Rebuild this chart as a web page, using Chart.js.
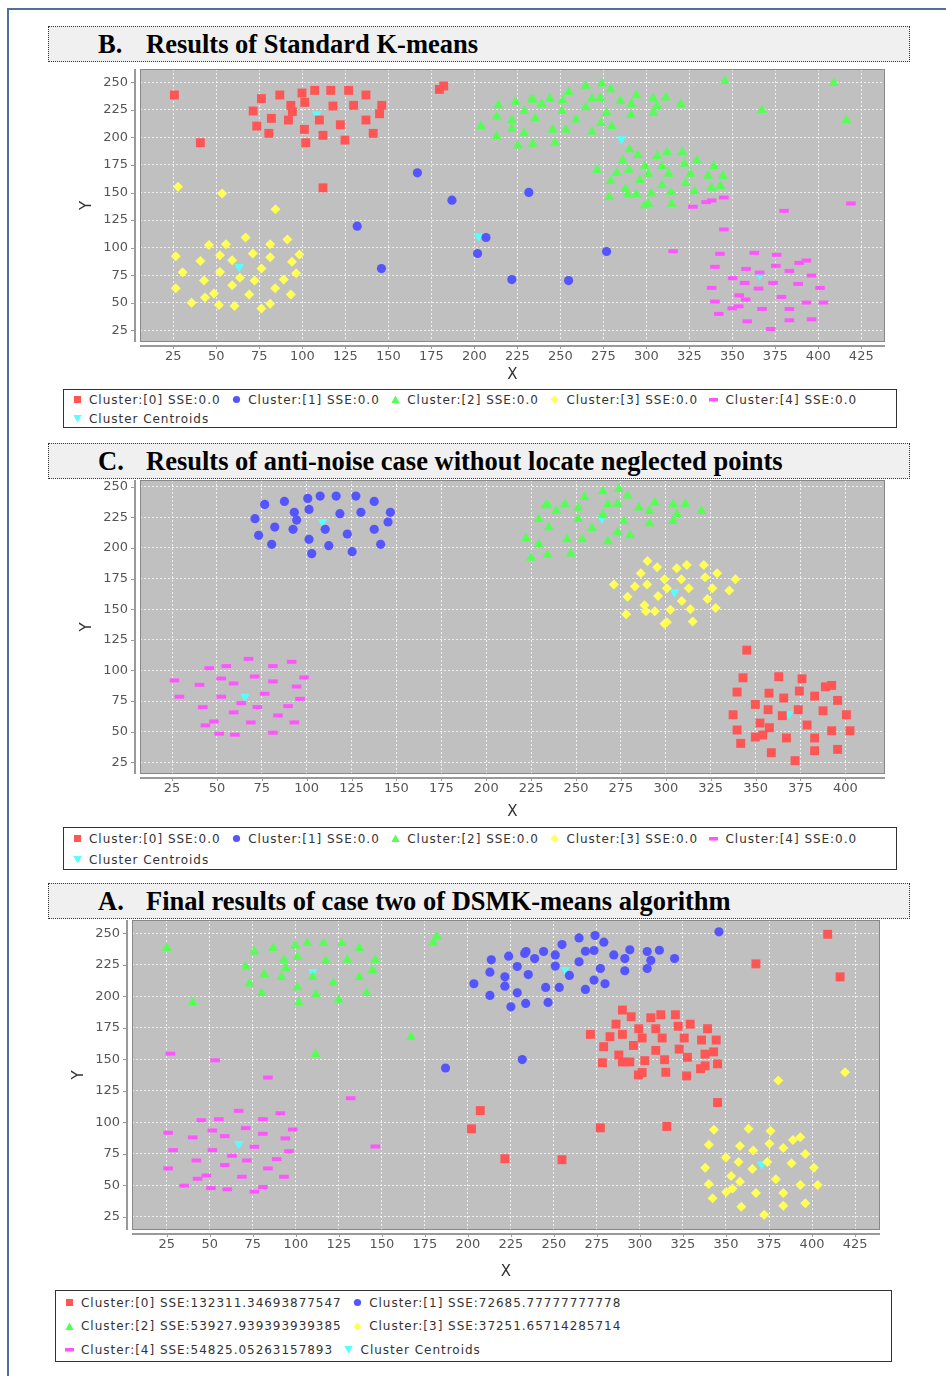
<!DOCTYPE html>
<html>
<head>
<meta charset="utf-8">
<title>K-means cluster results</title>
<script src="https://cdn.jsdelivr.net/npm/chart.js@4.4.1/dist/chart.umd.min.js"></script>
<style>
  body { margin: 0; background: #fff; }
  #page { position: relative; width: 946px; height: 1376px; overflow: hidden; background: #fff; }
  #frame { position: absolute; left: 7px; top: 8px; width: 960px; height: 1400px;
           border-left: 2px solid #4f6fa0; border-top: 2px solid #4f6fa0; }
  .ttl { position: absolute; left: 48px; width: 862px; height: 36px; box-sizing: border-box;
         background: #f0f0f0; border: 1px dotted #333;
         font-family: "Liberation Serif", "Times New Roman", serif; font-weight: bold; font-size: 26.5px;
         color: #000; }
  .ttl span { position: absolute; top: 0; line-height: 34px; white-space: nowrap; }
  canvas { position: absolute; left: 60px; }
  .leg { position: absolute; box-sizing: border-box; border: 1px solid #333; padding-left: 8.5px;
         font-family: "DejaVu Sans", Verdana, sans-serif; font-size: 12px; letter-spacing: 0.97px; color: #333; }
  .lrow { display: flex; align-items: center; white-space: nowrap; }
  .litem { display: flex; align-items: center; margin-right: 11px; }
  .litem svg { margin-right: 7.5px; flex: none; }
</style>
</head>
<body>
<div id="page">
  <div id="frame"></div>

  <div class="ttl" style="top:26px"><span style="left:49px">B.</span><span style="left:97px">Results of Standard K-means</span></div>
  <canvas id="chartB" width="835" height="326" style="top:59px"></canvas>
  <div class="leg" id="legB" style="left:63px;top:389px;width:834px;height:39px"></div>

  <div class="ttl" style="top:443px"><span style="left:49px">C.</span><span style="left:97px">Results of anti-noise case without locate neglected points</span></div>
  <canvas id="chartC" width="835" height="352" style="top:470px"></canvas>
  <div class="leg" id="legC" style="left:63px;top:827px;width:834px;height:43px"></div>

  <div class="ttl" style="top:883px"><span style="left:49px">A.</span><span style="left:97px">Final results of case two of DSMK-means algorithm</span></div>
  <canvas id="chartA" width="830" height="372" style="top:910px"></canvas>
  <div class="leg" id="legA" style="left:55px;top:1290px;width:837px;height:72px"></div>
</div>

<script>
// Axis ticks
const xTicksB = [25, 50, 75, 100, 125, 150, 175, 200, 225, 250, 275, 300, 325, 350, 375, 400, 425];
const xTicksC = [25, 50, 75, 100, 125, 150, 175, 200, 225, 250, 275, 300, 325, 350, 375, 400];
const xTicksA = xTicksB;
const yTicks = [25, 50, 75, 100, 125, 150, 175, 200, 225, 250];

// Legend labels
const legendLabelsB = ["Cluster:[0] SSE:0.0", "Cluster:[1] SSE:0.0", "Cluster:[2] SSE:0.0",
  "Cluster:[3] SSE:0.0", "Cluster:[4] SSE:0.0", "Cluster Centroids"];
const legendLabelsC = legendLabelsB;
const legendLabelsA = ["Cluster:[0] SSE:132311.34693877547", "Cluster:[1] SSE:72685.77777777778",
  "Cluster:[2] SSE:53927.939393939385", "Cluster:[3] SSE:37251.65714285714",
  "Cluster:[4] SSE:54825.05263157893", "Cluster Centroids"];

// ---- B. Standard K-means ----
const bCluster0 = [
  [25.6,238.5],[76.2,235.2],[86.9,238.5],[99.8,240.3],[107.2,242.7],[116.5,242.7],[126.9,242.7],[137.0,238.5],
  [71.4,224.0],[93.3,229.1],[101.4,231.8],[94.2,223.4],[117.8,228.5],[129.8,229.1],[146.2,229.1],
  [82.0,217.3],[91.9,215.8],[109.9,215.8],[137.0,215.8],[144.9,221.5],
  [73.5,210.3],[80.5,203.7],[101.2,207.3],[112.0,201.9],[122.1,211.5],[124.8,197.6],[141.2,203.7],[102.0,195.2],
  [40.7,195.2],[112.0,154.3],[179.7,243.6],[182.2,246.7]
];
const bCluster1 = [
  [166.9,167.9],[187.0,143.1],[131.9,119.5],[206.8,109.2],[201.9,94.7],[146.0,81.0],
  [221.8,71.0],[254.8,70.1],[276.9,96.5],[231.7,150.1]
];
const bCluster2 = [
  [203.9,210.3],[214.0,229.1],[213.0,218.8],[213.0,201.0],[223.9,232.4],[221.8,215.5],[221.8,207.9],[229.0,224.0],[229.0,203.7],[225.3,192.5],
  [233.4,234.6],[234.2,234.0],[235.4,217.3],[234.0,194.3],[239.1,230.3],[243.9,235.2],[251.3,233.6],[251.1,224.0],[245.5,207.0],[247.0,195.2],[253.2,207.0],
  [254.8,241.2],[259.1,216.1],[264.7,246.7],[264.7,227.3],[268.4,235.2],[268.4,205.2],[274.2,248.8],[273.3,235.8],[273.5,213.1],[279.3,243.6],
  [276.9,222.4],[279.9,210.3],[284.9,233.3],[291.3,230.3],[291.1,220.6],[294.2,238.2],[304.0,235.2],[306.3,228.5],[304.1,222.4],[311.3,236.1],[320.1,230.3],
  [290.2,189.1],[295.0,184.0],[286.3,179.1],[271.3,170.7],[289.8,170.7],[299.1,174.0],[306.3,183.1],[312.1,186.7],[320.9,186.7],[322.2,176.1],[329.4,179.1],[339.3,174.0],[309.2,174.0],
  [301.2,167.0],[282.8,167.9],[279.3,160.4],[296.2,161.3],[313.0,167.0],[325.8,167.0],[335.9,165.2],[344.6,165.2],[309.2,156.7],[322.9,158.6],[337.9,154.3],[343.1,155.8],
  [287.8,153.4],[289.2,148.3],[294.2,148.3],[302.8,149.2],[314.3,150.1],[327.9,151.0],[278.4,145.8],[299.1,138.3],[301.2,139.8],[314.8,139.8],
  [345.7,251.2],[367.3,224.9],[409.1,249.4],[416.3,215.5]
];
const bCluster3 = [
  [27.7,155.2],[53.4,149.2],[84.4,134.9],[67.0,109.2],[91.3,107.4],[45.7,102.5],[55.6,103.1],[81.3,103.1],
  [26.4,92.2],[40.7,88.0],[52.1,93.2],[59.2,88.6],[71.2,94.7],[81.3,91.3],[98.3,93.8],[94.0,87.1],
  [30.4,77.7],[52.1,78.0],[76.2,81.0],[96.4,76.8],[63.7,72.6],[42.8,70.1],[72.2,70.1],[89.2,71.0],
  [26.4,63.2],[59.2,65.9],[84.2,63.2],[48.6,58.3],[43.4,54.7],[69.1,57.4],[93.3,57.4],
  [35.6,50.0],[51.5,48.0],[60.6,47.1],[76.2,44.7],[81.3,49.0]
];
const bCluster4 = [
  [327.1,137.1],[334.8,141.3],[338.0,142.8],[345.1,145.5],[419.0,140.1],[380.1,133.4],[345.1,116.5],[315.6,96.8],
  [342.8,94.4],[362.8,95.3],[375.8,93.5],[393.1,88.3],[388.9,86.2],[339.9,82.6],[358.0,80.7],[365.9,77.4],[375.3,83.5],[383.2,78.9],[396.1,74.7],
  [350.2,72.3],[357.2,68.0],[373.7,68.0],[388.3,67.1],[338.0,63.5],[365.3,62.9],[401.0,63.5],[354.0,56.8],[378.6,55.3],[357.8,52.9],[339.9,51.1],
  [393.1,50.2],[403.0,50.2],[350.0,45.0],[353.7,46.8],[367.3,44.4],[383.2,44.4],[342.2,39.9],[358.7,33.2],[383.2,34.1],[396.1,35.0],[372.3,26.2]
];
const bCentroids = [[108.3,221.2],[202.5,110.4],[285.5,198.5],[63.3,82.6],[365.9,75.0]];

// ---- C. anti-noise without neglected points ----
const cCluster0 = [
  [345.1,116.6],[343.0,94.0],[362.9,94.9],[375.9,93.2],[339.7,82.4],[357.5,81.5],[365.7,77.5],[374.4,83.2],[382.9,79.1],[388.9,86.7],[392.4,87.8],[395.7,75.6],
  [349.9,72.3],[357.0,68.0],[373.8,68.0],[387.6,67.1],[337.5,63.9],[364.9,63.1],[400.6,63.9],[352.5,57.1],[357.7,53.3],[378.7,55.5],[339.7,51.4],
  [349.9,45.7],[354.0,47.3],[367.2,44.9],[382.9,44.9],[392.4,50.8],[402.6,50.8],[341.7,40.5],[358.8,32.9],[382.9,34.5],[395.7,35.6],[372.0,26.4]
];
const cCluster1 = [
  [76.6,235.6],[87.6,238.0],[100.6,240.5],[107.5,242.4],[116.4,242.4],[127.4,242.4],[137.6,238.0],[71.2,223.9],[93.1,229.1],[101.3,231.5],[94.4,222.8],
  [118.5,228.0],[130.2,229.1],[146.6,229.1],[82.2,217.1],[92.4,215.2],[110.3,215.2],[137.6,215.2],[145.3,221.2],[73.2,210.3],[80.5,203.0],[101.3,207.1],
  [112.3,201.9],[122.6,211.4],[125.3,197.0],[141.2,203.0],[102.8,195.4]
];
const cCluster2 = [
  [222.1,207.9],[225.0,191.9],[229.3,223.6],[229.3,203.0],[233.0,234.8],[234.1,235.6],[234.1,194.3],[234.9,216.9],[239.0,230.4],[243.8,235.6],[244.9,207.1],[247.1,195.4],
  [251.2,232.9],[251.2,223.6],[253.4,207.1],[254.7,241.6],[258.8,216.0],[264.9,246.2],[264.9,227.2],[267.7,235.6],[267.7,205.4],[273.1,236.1],[273.8,248.1],[273.1,212.8],
  [278.7,242.7],[276.6,222.0],[280.1,210.3],[285.0,232.9],[290.9,230.4],[290.9,220.1],[293.9,237.0],[304.1,235.6],[306.2,227.7],[304.1,222.0],[310.9,236.1],[319.9,230.4]
];
const cCluster3 = [
  [289.8,189.4],[295.2,184.2],[306.1,183.4],[311.7,186.1],[321.2,186.1],[286.1,179.4],[299.3,174.5],[308.7,174.5],[321.9,176.1],[328.6,179.4],[338.8,174.5],
  [271.1,170.1],[282.8,168.5],[289.6,170.1],[300.6,167.1],[312.8,167.1],[326.0,167.1],[335.4,165.2],[278.7,160.1],[295.7,160.9],[308.9,156.8],[323.2,158.4],
  [288.1,153.3],[288.9,148.4],[293.9,148.4],[302.6,149.5],[313.7,150.0],[327.8,151.1],[277.9,145.9],[300.6,139.4],[299.3,138.1],[315.0,140.0]
];
const cCluster4 = [
  [26.3,91.9],[29.1,78.6],[40.3,88.3],[45.7,101.9],[55.2,103.6],[67.6,109.5],[81.2,103.6],[91.6,107.1],[52.4,93.5],[59.3,89.4],[71.0,95.1],[81.2,91.1],
  [98.5,94.3],[94.4,86.9],[52.4,78.6],[76.6,81.0],[96.3,76.9],[63.5,73.4],[42.1,70.1],[72.5,70.1],[89.6,70.9],[59.3,65.8],[84.0,63.3],[48.3,58.4],
  [43.6,55.2],[68.9,57.6],[93.1,57.6],[51.3,48.4],[60.0,47.6],[81.2,49.2]
];
const cCentroids = [[108.8,221.5],[264.4,224.2],[304.8,164.1],[65.6,78.8],[368.6,64.4]];

// ---- A. DSMK-means final ----
const aCluster0 = [
  [409.1,249.2],[367.4,225.7],[416.3,215.4],
  [289.8,189.0],[294.9,183.7],[306.3,182.9],[312.1,185.3],[320.6,185.3],[286.1,177.8],[299.3,174.2],[309.2,174.2],[322.2,176.1],[329.2,177.8],[339.3,174.2],
  [271.2,169.7],[282.6,167.9],[289.8,169.7],[301.3,166.8],[312.9,166.8],[325.7,166.8],[335.8,165.2],[344.3,165.2],[278.9,159.9],[296.2,160.9],[309.2,157.0],
  [322.8,158.0],[342.8,155.8],[337.8,154.0],[287.7,153.3],[327.6,151.5],[289.8,147.8],[294.1,147.8],[302.8,148.8],[314.3,149.6],[278.2,147.2],[345.1,146.3],
  [337.9,144.7],[335.2,142.5],[299.1,137.5],[301.3,139.4],[315.0,139.6],[327.1,136.7],
  [345.1,115.6],[207.2,109.2],[202.1,94.7],[277.0,95.5],[315.6,96.6],[221.5,71.0],[254.7,70.2]
];
const aCluster1 = [
  [345.9,251.1],[203.5,209.9],[213.6,228.9],[212.8,219.1],[212.8,200.6],[221.5,215.4],[221.5,208.0],[223.7,231.8],[225.0,191.6],[228.7,223.6],[228.7,202.7],
  [233.6,194.3],[235.1,217.2],[233.0,233.9],[233.8,235.5],[238.8,229.9],[244.0,235.5],[245.2,207.0],[246.6,195.1],[250.8,232.8],[250.8,223.9],[253.1,207.0],
  [254.7,241.0],[259.0,216.5],[264.6,246.3],[264.6,227.3],[268.3,235.7],[268.3,205.4],[273.3,236.3],[273.9,248.2],[273.3,212.8],[279.0,242.9],[277.0,222.0],
  [279.7,209.9],[284.8,232.8],[291.2,229.9],[291.2,220.2],[294.1,236.8],[304.2,235.5],[306.3,228.4],[304.2,222.0],[311.3,236.5],[320.1,229.9],
  [231.6,149.7],[187.0,143.0]
];
const aCluster2 = [
  [25.0,238.1],[40.1,195.1],[75.9,235.5],[86.8,238.1],[99.7,240.2],[106.7,242.1],[116.2,242.1],[126.8,242.1],[136.9,238.1],[70.9,223.6],[93.1,228.9],
  [100.9,231.0],[94.1,222.3],[117.5,228.1],[129.9,228.9],[146.2,228.9],[81.7,217.3],[91.6,215.1],[109.8,215.1],[136.9,215.1],[144.5,220.7],[73.0,210.1],
  [80.2,202.5],[100.9,207.0],[111.7,201.4],[121.8,210.7],[124.9,197.2],[141.1,202.5],[101.7,195.1],[166.9,167.6],[111.5,154.1],[179.9,242.6],[182.0,247.4]
];
const aCluster3 = [
  [380.4,133.0],[419.2,139.6],[343.0,93.9],[363.1,94.7],[375.9,92.9],[393.2,88.1],[388.9,85.8],[340.0,82.0],[358.1,81.0],[365.8,77.6],[375.2,82.8],[383.3,79.4],
  [396.1,74.7],[349.9,72.0],[357.3,68.3],[374.0,68.3],[388.1,67.3],[337.9,63.8],[365.3,62.8],[401.1,63.8],[353.0,57.2],[379.0,54.6],[358.1,52.7],[340.0,50.9],
  [393.2,50.1],[403.3,50.1],[350.1,44.5],[353.8,47.4],[367.4,43.8],[383.3,43.8],[342.2,39.7],[358.9,32.9],[383.3,33.7],[396.1,35.6],[372.2,26.6]
];
const aCluster4 = [
  [27.1,154.4],[53.1,149.1],[83.8,135.4],[131.9,119.0],[146.2,80.7],[66.8,109.0],[91.0,107.1],[45.1,101.6],[55.2,102.4],[80.9,102.4],[25.8,91.6],[40.1,87.9],
  [51.5,93.4],[58.7,88.9],[70.9,95.3],[80.9,90.8],[98.2,94.2],[93.9,87.1],[28.7,77.8],[51.5,77.8],[75.9,80.5],[96.0,77.0],[62.9,73.3],[42.2,69.6],[71.6,69.6],
  [88.9,70.7],[25.8,63.3],[58.7,66.0],[83.8,63.3],[48.0,57.7],[42.9,55.1],[68.7,56.7],[93.1,56.7],[35.1,49.6],[50.7,47.7],[60.2,46.7],[75.9,44.8],[80.9,48.5]
];
const aCentroids = [[109.8,219.4],[256.6,221.0],[66.8,82.8],[370.7,66.5]];

// marker style of each series (cluster 0..4, then centroids)
const seriesStyle = [
  { color: "#ff5555", pointStyle: "rect", radius: 6.3 },
  { color: "#5555ff", pointStyle: "circle", radius: 4.6 },
  { color: "#55ff55", pointStyle: "triangle", radius: 5.8 },
  { color: "#ffff55", pointStyle: "rectRot", radius: 5 },
  { color: "#ff55ff", pointStyle: "line", radius: 4.8, border: 4 },
  { color: "#55ffff", pointStyle: "triangle", radius: 5.5, rotation: 180 }
];

function toDatasets(series) {
  return series.map((pts, i) => {
    const st = seriesStyle[i];
    return {
      data: pts.map(p => ({ x: p[0], y: p[1] })),
      pointStyle: st.pointStyle,
      pointRadius: st.radius,
      pointHoverRadius: st.radius,
      pointRotation: st.rotation || 0,
      pointBackgroundColor: st.color,
      pointBorderColor: st.color,
      pointBorderWidth: st.border || 0,
      showLine: false
    };
  });
}

// gray plot background, frame and the offset axis lines
const plotFrame = {
  id: "plotFrame",
  beforeDraw(chart) {
    const { ctx, chartArea: a } = chart;
    ctx.save();
    ctx.fillStyle = "#c0c0c0";
    ctx.fillRect(a.left, a.top, a.right - a.left, a.bottom - a.top);
    ctx.restore();
  },
  afterDraw(chart) {
    const { ctx, chartArea: a, scales } = chart;
    ctx.save();
    ctx.strokeStyle = "#888";
    ctx.lineWidth = 1;
    ctx.strokeRect(a.left + 0.5, a.top + 0.5, a.right - a.left - 1, a.bottom - a.top - 1);
    ctx.strokeStyle = "#9a9a9a";
    ctx.lineWidth = 2;
    ctx.beginPath();
    ctx.moveTo(a.left - 5, a.top);
    ctx.lineTo(a.left - 5, a.bottom);
    ctx.moveTo(a.left, a.bottom + 4);
    ctx.lineTo(a.right, a.bottom + 4);
    ctx.stroke();
    ctx.lineWidth = 1;
    ctx.beginPath();
    scales.y.ticks.forEach(t => {
      const y = Math.round(scales.y.getPixelForValue(t.value)) + 0.5;
      ctx.moveTo(a.left - 9, y);
      ctx.lineTo(a.left - 5, y);
    });
    scales.x.ticks.forEach(t => {
      const x = Math.round(scales.x.getPixelForValue(t.value)) + 0.5;
      ctx.moveTo(x, a.bottom + 4);
      ctx.lineTo(x, a.bottom + 7);
    });
    ctx.stroke();
    ctx.restore();
  }
};

function makeChart(id, series, p) {
  const canvas = document.getElementById(id);
  const plotH = p.bottom - p.top;
  const xHeight = canvas.height - 10 - plotH;
  const tickFont = { family: "DejaVu Sans", size: 13 };
  const grid = { color: "rgba(245,245,245,0.9)", lineWidth: 1, drawTicks: false };
  new Chart(canvas, {
    type: "scatter",
    data: { datasets: toDatasets(series) },
    options: {
      responsive: false,
      animation: false,
      layout: { padding: { top: 10, right: 10, left: 0, bottom: 0 } },
      plugins: { legend: { display: false }, tooltip: { enabled: false } },
      scales: {
        x: {
          type: "linear", min: p.xMin, max: p.xMax,
          afterBuildTicks: s => { s.ticks = p.xTicks.map(v => ({ value: v })); },
          afterFit: s => { s.height = xHeight; s.paddingLeft = 0; s.paddingRight = 0; },
          grid: grid,
          border: { display: false, dash: [2, 2] },
          ticks: { font: tickFont, color: "#555", padding: 7, maxRotation: 0, autoSkip: false },
          title: { display: true, text: "X", color: "#333", font: { family: "DejaVu Sans", size: 15 },
                   padding: { top: 0, bottom: 1 } }
        },
        y: {
          type: "linear", min: p.yMin, max: p.yMax,
          afterBuildTicks: s => { s.ticks = yTicks.map(v => ({ value: v })); },
          afterFit: s => { s.width = p.left - 60; s.paddingTop = 0; s.paddingBottom = 0; },
          grid: grid,
          border: { display: false, dash: [2, 2] },
          ticks: { font: tickFont, color: "#555", padding: 12, autoSkip: false },
          title: { display: true, text: "Y", color: "#333", font: { family: "DejaVu Sans", size: 15 },
                   padding: { top: p.yTitlePad, bottom: 0 } }
        }
      }
    },
    plugins: [plotFrame]
  });
}

makeChart("chartB", [bCluster0, bCluster1, bCluster2, bCluster3, bCluster4, bCentroids],
  { left: 140, top: 69, bottom: 342, xMin: 5.6, xMax: 438.8, yMin: 14.4, yMax: 262.1, xTicks: xTicksB, yTitlePad: 18 });
makeChart("chartC", [cCluster0, cCluster1, cCluster2, cCluster3, cCluster4, cCentroids],
  { left: 140, top: 480, bottom: 774, xMin: 7.15, xMax: 422.1, yMin: 15.5, yMax: 255.5, xTicks: xTicksC, yTitlePad: 18 });
makeChart("chartA", [aCluster0, aCluster1, aCluster2, aCluster3, aCluster4, aCentroids],
  { left: 132, top: 920, bottom: 1230, xMin: 4.8, xMax: 439.5, yMin: 14.4, yMax: 260.5, xTicks: xTicksA, yTitlePad: 10 });

// HTML legends
const markerSvg = [
  '<svg width="9" height="9"><rect x="1" y="1" width="7" height="7" fill="#ff5555"/></svg>',
  '<svg width="9" height="9"><circle cx="4.5" cy="4.5" r="3.6" fill="#5555ff"/></svg>',
  '<svg width="9" height="9"><polygon points="4.5,0.5 8.7,8 0.3,8" fill="#55ff55"/></svg>',
  '<svg width="9" height="9"><polygon points="4.5,0.5 8.5,4.5 4.5,8.5 0.5,4.5" fill="#ffff55"/></svg>',
  '<svg width="9" height="9"><rect x="0" y="3" width="9" height="3.5" fill="#ff55ff"/></svg>',
  '<svg width="9" height="9"><polygon points="0.3,1 8.7,1 4.5,8.5" fill="#55ffff"/></svg>'
];

function buildLegend(id, labels, rows, rowH) {
  const box = document.getElementById(id);
  rows.forEach(r => {
    const row = document.createElement("div");
    row.className = "lrow";
    row.style.height = rowH + "px";
    r.forEach(i => {
      const item = document.createElement("div");
      item.className = "litem";
      item.innerHTML = markerSvg[i] + "<span>" + labels[i] + "</span>";
      row.appendChild(item);
    });
    box.appendChild(row);
  });
}

buildLegend("legB", legendLabelsB, [[0, 1, 2, 3, 4], [5]], 19);
buildLegend("legC", legendLabelsC, [[0, 1, 2, 3, 4], [5]], 21);
buildLegend("legA", legendLabelsA, [[0, 1], [2, 3], [4, 5]], 23.5);
</script>
</body>
</html>
